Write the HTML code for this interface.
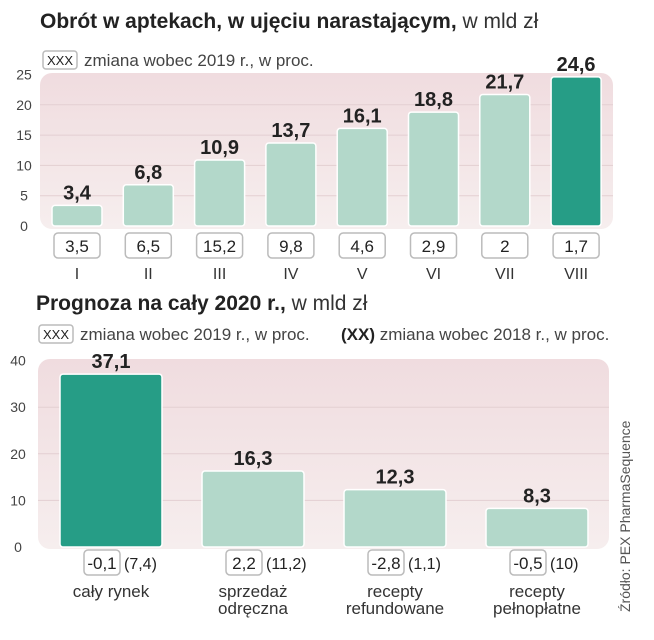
<!DOCTYPE html>
<html><head><meta charset="utf-8">
<style>
body{margin:0;background:#fff;}
svg{display:block;font-family:"Liberation Sans Narrow","Liberation Sans",sans-serif;}
</style></head>
<body>
<svg width="654" height="640" viewBox="0 0 654 640">
<defs>
<linearGradient id="bg" x1="0" y1="0" x2="0" y2="1">
<stop offset="0" stop-color="#f0dcdf"/><stop offset="1" stop-color="#f6eeee"/>
</linearGradient>
</defs>
<g>
<text x="40" y="28" font-size="21" font-weight="bold" fill="#222">Obrót w aptekach, w ujęciu narastającym,<tspan font-weight="normal" fill="#333"> w mld zł</tspan></text>
<rect x="43" y="51" width="34" height="18" rx="3" fill="#fff" stroke="#bbb" stroke-width="1.5"/>
<text x="60" y="65" font-size="13" text-anchor="middle" fill="#222">XXX</text>
<text x="84" y="66" font-size="17" fill="#444">zmiana wobec 2019 r., w proc.</text>
</g>
<g id="top"></g>
<g>
<text x="36" y="310" font-size="21" font-weight="bold" fill="#222">Prognoza na cały 2020 r.,<tspan font-weight="normal" fill="#333"> w mld zł</tspan></text>
<rect x="39" y="325" width="34" height="18" rx="3" fill="#fff" stroke="#bbb" stroke-width="1.5"/>
<text x="56" y="339" font-size="13" text-anchor="middle" fill="#222">XXX</text>
<text x="80" y="340" font-size="17" fill="#444">zmiana wobec 2019 r., w proc.</text>
<text x="341" y="340" font-size="17" fill="#444"><tspan font-weight="bold" fill="#222">(XX)</tspan> zmiana wobec 2018 r., w proc.</text>
</g>
<g id="bot"></g>
<text transform="translate(630,612) rotate(-90)" font-size="14" fill="#555">Źródło: PEX PharmaSequence</text>
</svg>
<script>
const topCats=["I","II","III","IV","V","VI","VII","VIII"];
const topVals=[3.4,6.8,10.9,13.7,16.1,18.8,21.7,24.6];
const topLabels=["3,4","6,8","10,9","13,7","16,1","18,8","21,7","24,6"];
const topChange=["3,5","6,5","15,2","9,8","4,6","2,9","2","1,7"];
const topTicks=[0,5,10,15,20,25];
const botCats=[["cały rynek"],["sprzedaż","odręczna"],["recepty","refundowane"],["recepty","pełnopłatne"]];
const botVals=[37.1,16.3,12.3,8.3];
const botLabels=["37,1","16,3","12,3","8,3"];
const botChange19=["-0,1","2,2","-2,8","-0,5"];
const botChange18=["(7,4)","(11,2)","(1,1)","(10)"];
const botTicks=[0,10,20,30,40];
const NS="http://www.w3.org/2000/svg";
function mk(p,t,a,txt){const e=document.createElementNS(NS,t);for(const k in a)e.setAttribute(k,a[k]);if(txt!=null)e.textContent=txt;p.appendChild(e);return e;}

// top chart
(function(){
const g=document.getElementById('top');
const base=226,scale=6.06,x0=52,pitch=71.3,bw=50;
const y=v=>base-v*scale;
const bg=mk(g,'rect',{x:40,y:73,width:573,height:156,rx:12,fill:'url(#bg)'});

topTicks.forEach(t=>{
 if(t>0&&t<25){const l=mk(g,'line',{x1:40,x2:613,y1:y(t),y2:y(t),stroke:'#e3cfd2','stroke-width':1});
 }
 const tx=mk(g,'text',{x:24,y:y(t)+5,'font-size':14,'text-anchor':'middle',fill:'#444'},String(t));
 
});
topVals.forEach((v,i)=>{
 const x=x0+i*pitch;
 const r=mk(g,'rect',{x:x,y:y(v),width:bw,height:v*scale,rx:3,fill:i==7?'#269d86':'#b3d8ca',stroke:'#fff','stroke-width':1.5});
 
 const lb=mk(g,'text',{x:x+bw/2,y:y(v)-6,'font-size':20,'font-weight':'bold','text-anchor':'middle',fill:'#222'},topLabels[i]);
 
 const b=mk(g,'rect',{x:x+2,y:233,width:bw-4,height:25,rx:4,fill:'#fff',stroke:'#bbb','stroke-width':1.5});
 
 const ct=mk(g,'text',{x:x+bw/2,y:252,'font-size':17,'text-anchor':'middle',fill:'#222'},topChange[i]);
 
 const cl=mk(g,'text',{x:x+bw/2,y:279,'font-size':16,'text-anchor':'middle',fill:'#333'},topCats[i]);
 
});
})();

// bottom chart
(function(){
const g=document.getElementById('bot');
const base=547,scale=4.66,x0=60,pitch=142,bw=102;
const y=v=>base-v*scale;
const bg=mk(g,'rect',{x:38,y:359,width:571,height:190,rx:12,fill:'url(#bg)'});

botTicks.forEach(t=>{
 if(t>0&&t<40){const l=mk(g,'line',{x1:38,x2:609,y1:y(t),y2:y(t),stroke:'#e3cfd2','stroke-width':1});
 }
 const tx=mk(g,'text',{x:18,y:y(t)+5,'font-size':14,'text-anchor':'middle',fill:'#444'},String(t));
 
});
botVals.forEach((v,i)=>{
 const x=x0+i*pitch,cx=x+bw/2;
 const r=mk(g,'rect',{x:x,y:y(v),width:bw,height:v*scale,rx:3,fill:i==0?'#269d86':'#b3d8ca',stroke:'#fff','stroke-width':1.5});
 
 const lb=mk(g,'text',{x:cx,y:y(v)-6,'font-size':20,'font-weight':'bold','text-anchor':'middle',fill:'#222'},botLabels[i]);
 
 const b=mk(g,'rect',{x:cx-27,y:550,width:36,height:25,rx:4,fill:'#fff',stroke:'#bbb','stroke-width':1.5});
 
 const ct=mk(g,'text',{x:cx-9,y:569,'font-size':17,'text-anchor':'middle',fill:'#222'},botChange19[i]);
 
 const c8=mk(g,'text',{x:cx+13,y:569,'font-size':16,fill:'#222'},botChange18[i]);
 
 botCats[i].forEach((s,j)=>{
  const cl=mk(g,'text',{x:cx,y:597+j*17,'font-size':17,'text-anchor':'middle',fill:'#333'},s);
  
 });
});
})();
</script>
</body></html>
